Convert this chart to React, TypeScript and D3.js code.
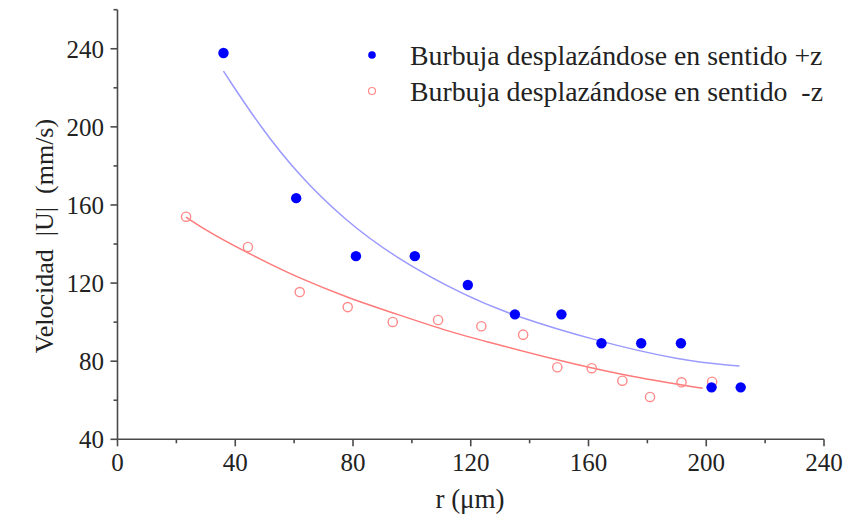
import React, { useRef, useEffect } from "react";
import * as d3 from "d3";

// measured points, bubble moving in +z
const rPlus = [36, 60.7, 81, 101, 119, 135, 150.8, 164.4, 177.9, 191.4, 201.8, 211.7];
const uPlus = [237.8, 163.5, 133.8, 133.8, 119, 104, 104, 89.2, 89.2, 89.2, 66.6, 66.6];

// measured points, bubble moving in -z
const rMinus = [23.3, 44.3, 61.9, 78.2, 93.5, 108.9, 123.6, 137.8, 149.4, 161.1, 171.5, 180.9, 191.6, 202];
const uMinus = [154, 138.5, 115.4, 107.7, 100.1, 101.1, 97.9, 93.6, 76.9, 76.4, 70, 61.7, 69.2, 69.5];

// fitted curves
const fitPlusR = [36, 48.4, 62, 76.7, 93.7, 118.6, 135.6, 161.6, 191.4, 211.3];
const fitPlusU = [228.5, 200.1, 174.5, 153, 133.5, 113, 102.8, 90.8, 80.2, 77.5];
const fitMinusR = [23.3, 31.5, 48.4, 61.9, 78.2, 96, 112.9, 124.2, 148, 171.5, 198.8];
const fitMinusU = [153.8, 145.5, 132.2, 122.4, 112.5, 103.5, 95, 90.5, 81, 72.8, 66.1];

const xMajor = [0, 40, 80, 120, 160, 200, 240];
const xMinor = [20, 60, 100, 140, 180, 220];
const yMajor = [40, 80, 120, 160, 200, 240];
const yMinor = [60, 100, 140, 180, 220, 260];

const legendLabels = ["Burbuja desplazándose en sentido +z", "Burbuja desplazándose en sentido  -z"];

const W = 852;
const H = 525;
const FONT = "'Liberation Serif', 'Times New Roman', serif";
const AXIS = "#4a4a4a";
const TEXT = "#222";

export default function App() {
    const svgRef = useRef<SVGSVGElement | null>(null);

    useEffect(() => {
        if (!svgRef.current) return;
        const svg = d3.select(svgRef.current);
        svg.selectAll("*").remove();

        const x = d3.scaleLinear().domain([0, 240]).range([117.5, 824]);
        const y = d3.scaleLinear().domain([40, 260]).range([439.3, 9.7]);

        const g = svg.append("g");

        // axes lines
        g.append("line")
            .attr("x1", x(0)).attr("x2", x(0))
            .attr("y1", y(260)).attr("y2", y(40))
            .attr("stroke", AXIS).attr("stroke-width", 1.6);
        g.append("line")
            .attr("x1", x(0)).attr("x2", x(240))
            .attr("y1", y(40)).attr("y2", y(40))
            .attr("stroke", AXIS).attr("stroke-width", 1.6);

        // x ticks
        g.selectAll(".xmaj").data(xMajor).enter().append("line")
            .attr("x1", (d) => x(d)).attr("x2", (d) => x(d))
            .attr("y1", y(40)).attr("y2", y(40) + 7)
            .attr("stroke", AXIS).attr("stroke-width", 1.6);
        g.selectAll(".xmin").data(xMinor).enter().append("line")
            .attr("x1", (d) => x(d)).attr("x2", (d) => x(d))
            .attr("y1", y(40)).attr("y2", y(40) + 4)
            .attr("stroke", AXIS).attr("stroke-width", 1.6);
        g.selectAll(".xlab").data(xMajor).enter().append("text")
            .attr("x", (d) => x(d)).attr("y", 471)
            .attr("text-anchor", "middle")
            .style("font-family", FONT).style("font-size", "25px").style("fill", TEXT)
            .text((d) => d);

        // y ticks
        g.selectAll(".ymaj").data(yMajor).enter().append("line")
            .attr("x1", x(0) - 7).attr("x2", x(0))
            .attr("y1", (d) => y(d)).attr("y2", (d) => y(d))
            .attr("stroke", AXIS).attr("stroke-width", 1.6);
        g.selectAll(".ymin").data(yMinor).enter().append("line")
            .attr("x1", x(0) - 4).attr("x2", x(0))
            .attr("y1", (d) => y(d)).attr("y2", (d) => y(d))
            .attr("stroke", AXIS).attr("stroke-width", 1.6);
        g.selectAll(".ylab").data(yMajor).enter().append("text")
            .attr("x", 104).attr("y", (d) => y(d))
            .attr("dy", "0.35em")
            .attr("text-anchor", "end")
            .style("font-family", FONT).style("font-size", "25px").style("fill", TEXT)
            .text((d) => d);

        // axis titles
        g.append("text")
            .attr("x", 470).attr("y", 508)
            .attr("text-anchor", "middle")
            .style("font-family", FONT).style("font-size", "27px").style("fill", TEXT)
            .text("r (μm)");
        g.append("text")
            .attr("transform", "translate(53, 236) rotate(-90)")
            .attr("text-anchor", "middle")
            .style("font-family", FONT).style("font-size", "26px").style("fill", TEXT)
            .style("white-space", "pre")
            .text("Velocidad  |U|  (mm/s)");

        // fit curves
        const line = d3.line<[number, number]>()
            .x((d) => x(d[0]))
            .y((d) => y(d[1]))
            .curve(d3.curveBasis);
        g.append("path")
            .attr("d", line(fitPlusR.map((r, i) => [r, fitPlusU[i]]) as [number, number][]))
            .attr("fill", "none").attr("stroke", "#9a9aff").attr("stroke-width", 1.5);
        g.append("path")
            .attr("d", line(fitMinusR.map((r, i) => [r, fitMinusU[i]]) as [number, number][]))
            .attr("fill", "none").attr("stroke", "#ff7a7a").attr("stroke-width", 1.5);

        // points
        g.selectAll(".pm").data(rMinus).enter().append("circle")
            .attr("cx", (d) => x(d)).attr("cy", (_, i) => y(uMinus[i]))
            .attr("r", 4.6)
            .attr("fill", "none").attr("stroke", "#ff8a8a").attr("stroke-width", 1.4);
        g.selectAll(".pp").data(rPlus).enter().append("circle")
            .attr("cx", (d) => x(d)).attr("cy", (_, i) => y(uPlus[i]))
            .attr("r", 5.2)
            .attr("fill", "#0000ff");

        // legend
        const lg = g.append("g");
        lg.append("circle").attr("cx", 372).attr("cy", 55).attr("r", 3.8).attr("fill", "#0000ff");
        lg.append("circle").attr("cx", 372).attr("cy", 91).attr("r", 3.5)
            .attr("fill", "none").attr("stroke", "#ff8a8a").attr("stroke-width", 1.2);
        lg.selectAll("text").data(legendLabels).enter().append("text")
            .attr("x", 410).attr("y", (_, i) => 65 + i * 36)
            .style("font-family", FONT).style("font-size", "27.8px").style("fill", TEXT)
            .style("white-space", "pre")
            .text((d) => d);
    }, []);

    return (
        <svg
            ref={svgRef}
            width={W}
            height={H}
            style={{ position: "absolute", left: 0, top: 0, background: "#fff" }}
        />
    );
}
